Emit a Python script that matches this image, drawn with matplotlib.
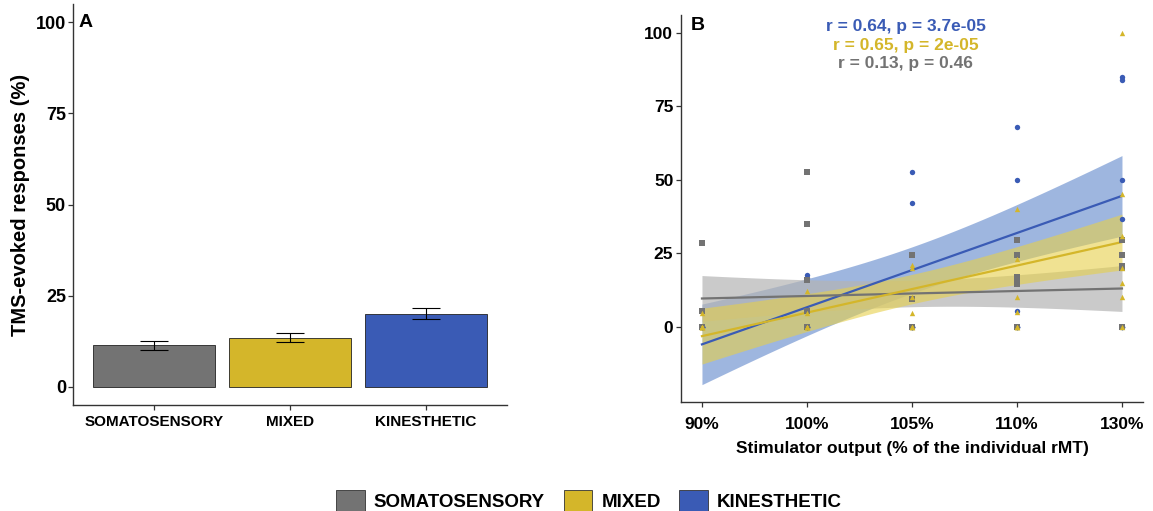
import matplotlib.pyplot as plt
import numpy as np
from matplotlib.patches import Patch

plt.rcParams['font.family'] = ['Liberation Sans', 'DejaVu Sans']
plt.rcParams['font.weight'] = 'bold'

# panel A: mean responses per group
groups = ["SOMATOSENSORY", "MIXED", "KINESTHETIC"]
colors = ["#737373", "#D4B62A", "#3A5BB5"]
means = [11.4, 13.5, 20.0]
sems = [1.2, 1.3, 1.5]

# panel B: individual responses per stimulation intensity
intensities = ["90%", "100%", "105%", "110%", "130%"]
soma_pts = [
    [28.5, 5.5, 0, 0, 0, 0, 0],
    [52.5, 35, 16, 5.5, 0, 0, 0],
    [24.5, 9.5, 0, 0, 0, 0, 0],
    [29.5, 24.5, 17, 15, 14.5, 0, 0],
    [29.5, 24.5, 20.5, 20, 0, 0, 0],
]
mixed_pts = [
    [4.5, 0, 0, 0, 0, 0, 0],
    [12, 4.5, 0, 0, 0, 0, 0],
    [21, 20, 10, 4.5, 0, 0, 0],
    [40, 23, 10, 5, 0, 0, 0],
    [100, 45, 31, 20, 15, 10, 0],
]
kin_pts = [
    [0, 0, 0, 0, 0, 0, 0],
    [17.5, 16.5, 0, 0, 0, 0, 0],
    [52.5, 42, 0, 0, 0, 0, 0],
    [68, 50, 5.5, 0, 0, 0, 0],
    [85, 84, 50, 36.5, 0, 0, 0],
]

# linear fits: value at 90% and at 130%, CI half-width at the ends and in the middle
fit_start = [9.6, -3.2, -6.0]
fit_end = [13.0, 28.8, 44.5]
ci_edge = [7.8, 9.5, 13.7]
ci_mid = [4.5, 5.0, 7.9]
stats_text = ["r = 0.13, p = 0.46", "r = 0.65, p = 2e-05", "r = 0.64, p = 3.7e-05"]

ribbon_colors = ["#B4B4B4", "#E6D04A", "#3F6EC0"]
ribbon_alpha = [0.7, 0.6, 0.5]
markers = ["s", "^", "o"]

fig = plt.figure(figsize=(11.53, 5.11), dpi=100)
axA = fig.add_axes([0.0633, 0.2074, 0.3764, 0.7847])
axB = fig.add_axes([0.5906, 0.2133, 0.4007, 0.7573])

spine_col = "#333333"
for ax in (axA, axB):
    for s in ("top", "right"):
        ax.spines[s].set_visible(False)
    for s in ("left", "bottom"):
        ax.spines[s].set_color(spine_col)
        ax.spines[s].set_linewidth(1.0)
    ax.tick_params(color=spine_col, length=3.5, width=0.9, labelcolor="black")

# ---- panel A ----
xA = np.arange(1, 4)
axA.bar(xA, means, width=0.9, color=colors, edgecolor="#222222", linewidth=0.6, zorder=2)
axA.errorbar(xA, means, yerr=sems, fmt="none", ecolor="black", elinewidth=0.8,
             capsize=10, capthick=0.8, zorder=3)
axA.set_xlim(0.4, 3.6)
axA.set_ylim(-5, 105)
axA.set_yticks([0, 25, 50, 75, 100])
axA.set_xticks(xA)
axA.set_xticklabels(groups)
axA.tick_params(axis="y", labelsize=13, pad=1.5)
axA.tick_params(axis="x", labelsize=11, pad=4)
axA.set_ylabel("TMS-evoked responses (%)", fontsize=14.5, fontweight="bold", labelpad=4)
axA.text(0.03, 0.955, "A", transform=axA.transAxes, fontsize=14, fontweight="bold",
         ha="center", va="center")

# ---- panel B ----
xB = np.arange(1, 6)
xs = np.linspace(1, 5, 200)
order = [2, 0, 1]  # kinesthetic, somatosensory, mixed
for i in order:
    a = fit_start[i]
    b = (fit_end[i] - fit_start[i]) / 4.0
    line = a + b * (xs - 1)
    A = ci_mid[i] ** 2
    B = (ci_edge[i] ** 2 - ci_mid[i] ** 2) / 4.0
    half = np.sqrt(A + B * (xs - 3) ** 2)
    axB.fill_between(xs, line - half, line + half, color=ribbon_colors[i],
                     alpha=ribbon_alpha[i], linewidth=0, zorder=1)
    axB.plot(xs, line, color=colors[i], lw=1.6, zorder=2)

all_pts = [soma_pts, mixed_pts, kin_pts]
for i in order:
    px, py = [], []
    for k, vals in enumerate(all_pts[i]):
        px += [xB[k]] * len(vals)
        py += vals
    axB.scatter(px, py, marker=markers[i], s=15, color=colors[i], linewidths=0, zorder=4)

axB.set_xlim(0.8, 5.2)
axB.set_ylim(-25.6, 106)
axB.set_xticks(xB)
axB.set_xticklabels(intensities)
axB.set_yticks([0, 25, 50, 75, 100])
axB.tick_params(axis="both", labelsize=12.5)
axB.tick_params(axis="x", pad=7)
axB.tick_params(axis="y", pad=2)
axB.set_xlabel("Stimulator output (% of the individual rMT)", fontsize=12.5,
               fontweight="bold", labelpad=7)
axB.text(0.037, 0.972, "B", transform=axB.transAxes, fontsize=14, fontweight="bold",
         ha="center", va="center")
for i, yv in zip([2, 1, 0], [102.2, 95.7, 89.6]):
    axB.text(2.94, yv, stats_text[i], color=colors[i], fontsize=12.5, fontweight="bold",
             ha="center", va="center")

for lab in axA.get_xticklabels() + axA.get_yticklabels() + axB.get_xticklabels() + axB.get_yticklabels():
    lab.set_fontweight("bold")

handles = [Patch(facecolor=c, edgecolor="#333333", linewidth=0.6) for c in colors]
fig.legend(handles, groups, loc="center", bbox_to_anchor=(0.511, 0.02), ncol=3,
           frameon=False, handlelength=1.5, handleheight=1.35,
           handletextpad=0.5, columnspacing=1.0, prop={"weight": "bold", "size": 13.5})

fig.savefig("out.png", dpi=100)
